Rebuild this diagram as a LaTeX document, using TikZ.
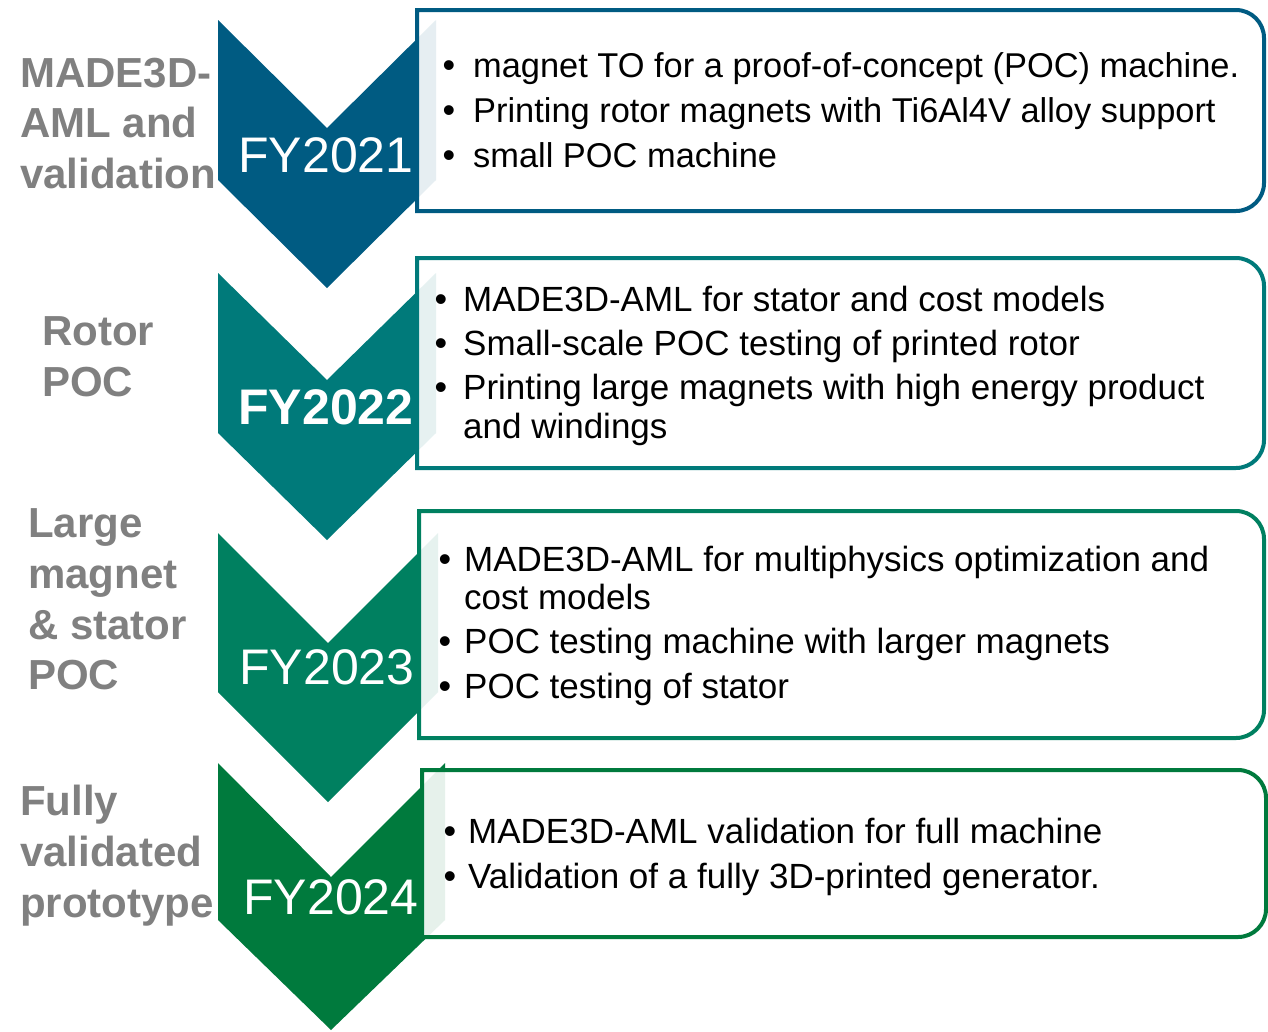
\documentclass[tikz,border=0pt]{standalone}
\usepackage{fontspec}
\setmainfont{Liberation Sans}
\definecolor{cA}{RGB}{0,91,130}
\definecolor{cB}{RGB}{0,122,122}
\definecolor{cC}{RGB}{0,128,96}
\definecolor{cD}{RGB}{0,122,61}
\definecolor{labgray}{RGB}{128,128,128}
\begin{document}
\begin{tikzpicture}[x=1pt,y=-1pt,
  tbox/.style={draw=#1, line width=4pt, fill=white, fill opacity=0.9},
  fy/.style={text=white, inner sep=0pt, anchor=base, font=\fontsize{50}{60}\selectfont},
  lab/.style={text=labgray, inner sep=0pt, anchor=base west, font=\bfseries\fontsize{42}{50}\selectfont},
  item/.style={inner sep=0pt, anchor=base west, font=\fontsize{35}{45}\selectfont},
  itemA/.style={inner sep=0pt, anchor=base west, font=\fontsize{34.4}{45}\selectfont},
  bul/.style={inner sep=0pt, anchor=base, font=\fontsize{36}{45}\selectfont}]
\useasboundingbox (0,0) rectangle (1268,1031);
\fill[white] (0,0) rectangle (1268,1031);

% ---- stage 1 ----
\fill[cA] (218,20) -- (327,128) -- (436,20) -- (436,180) -- (327,288) -- (218,180) -- cycle;
\filldraw[tbox=cA] (417,10) -- (1236,10) arc[start angle=-90,end angle=0,radius=28]
  -- (1264,183) arc[start angle=0,end angle=90,radius=28] -- (417,211) -- cycle;
\node[fy] (fy1) at (326,172) {FY2021};
\node[lab] (l1a) at (20,87) {MADE3D-};
\node[lab] (l1b) at (20,137) {AML and};
\node[lab] (l1c) at (20,188) {validation};
\node[bul] (b1a) at (449,77) {•};
\node[itemA] (t1a) at (473,77) {magnet TO for a proof-of-concept (POC) machine.};
\node[bul] (b1b) at (449,122) {•};
\node[itemA] (t1b) at (473,122) {Printing rotor magnets with Ti6Al4V alloy support};
\node[bul] (b1c) at (449,167) {•};
\node[itemA] (t1c) at (473,167) {small POC machine};

% ---- stage 2 ----
\fill[cB] (218,273) -- (327,380) -- (436,273) -- (436,433) -- (327,540) -- (218,433) -- cycle;
\filldraw[tbox=cB] (417,258) -- (1236,258) arc[start angle=-90,end angle=0,radius=28]
  -- (1264,440) arc[start angle=0,end angle=90,radius=28] -- (417,468) -- cycle;
\node[fy, font=\bfseries\fontsize{50}{60}\selectfont] (fy2) at (326,424) {FY2022};
\node[lab] (l2a) at (42,345) {Rotor};
\node[lab] (l2b) at (42,396) {POC};
\node[bul] (b2a) at (441,311) {•};
\node[item] (t2a) at (463,311) {MADE3D-AML for stator and cost models};
\node[bul] (b2b) at (441,355) {•};
\node[item] (t2b) at (463,355) {Small-scale POC testing of printed rotor};
\node[bul] (b2c) at (441,399) {•};
\node[item] (t2c) at (463,399) {Printing large magnets with high energy product};
\node[item] (t2d) at (463,438) {and windings};

% ---- stage 3 ----
\fill[cC] (218,533) -- (328,643) -- (438,533) -- (438,692) -- (328,802) -- (218,692) -- cycle;
\filldraw[tbox=cC] (419,511) -- (1236,511) arc[start angle=-90,end angle=0,radius=28]
  -- (1264,710) arc[start angle=0,end angle=90,radius=28] -- (419,738) -- cycle;
\node[fy] (fy3) at (327,684) {FY2023};
\node[lab] (l3a) at (28,537) {Large};
\node[lab] (l3b) at (28,588) {magnet};
\node[lab] (l3c) at (28,639) {\& stator};
\node[lab] (l3d) at (28,689) {POC};
\node[bul] (b3a) at (445,571) {•};
\node[item] (t3a) at (464,571) {MADE3D-AML for multiphysics optimization and};
\node[item] (t3b) at (464,609) {cost models};
\node[bul] (b3b) at (445,653) {•};
\node[item] (t3c) at (464,653) {POC testing machine with larger magnets};
\node[bul] (b3c) at (445,698) {•};
\node[item] (t3d) at (464,698) {POC testing of stator};

% ---- stage 4 ----
\fill[cD] (218,763) -- (331,877) -- (445,763) -- (445,920) -- (331,1030) -- (218,920) -- cycle;
\filldraw[tbox=cD] (422,770) -- (1238,770) arc[start angle=-90,end angle=0,radius=28]
  -- (1266,909) arc[start angle=0,end angle=90,radius=28] -- (422,937) -- cycle;
\node[fy] (fy4) at (331,914) {FY2024};
\node[lab] (l4a) at (20,815) {Fully};
\node[lab] (l4b) at (20,866) {validated};
\node[lab] (l4c) at (20,917) {prototype};
\node[bul] (b4a) at (450,843) {•};
\node[item] (t4a) at (468,843) {MADE3D-AML validation for full machine};
\node[bul] (b4b) at (450,888) {•};
\node[item] (t4b) at (468,888) {Validation of a fully 3D-printed generator.};
\end{tikzpicture}
\end{document}
